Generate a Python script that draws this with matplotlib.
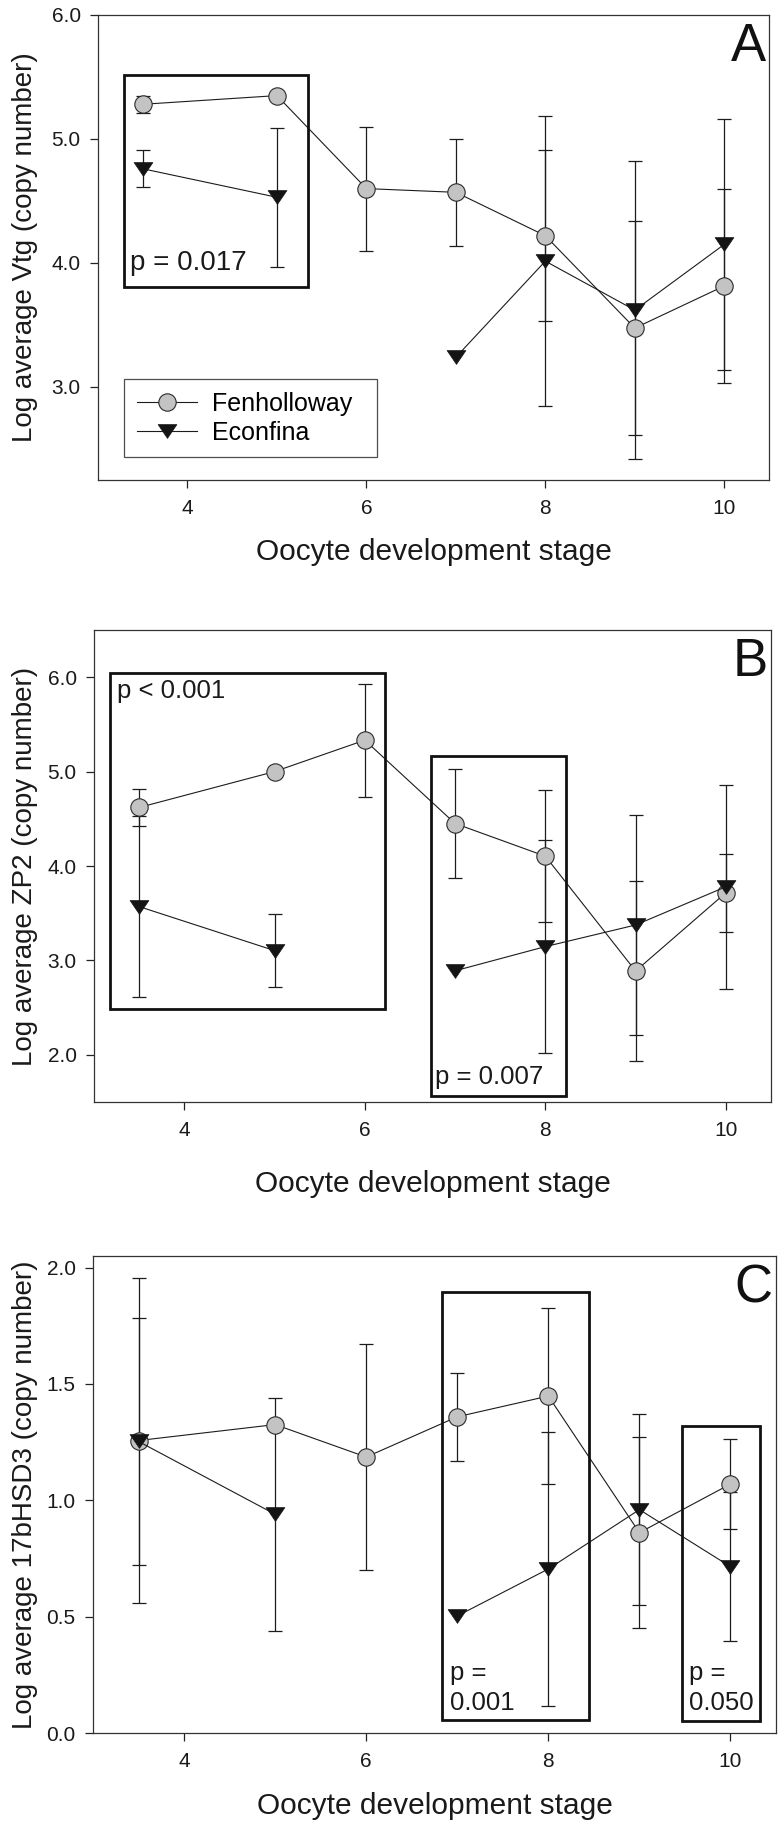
import numpy as np
import matplotlib
matplotlib.use("Agg")
import matplotlib.pyplot as plt
from matplotlib.patches import Rectangle
from matplotlib.path import Path

# ---------------- data ----------------
stages = [3.5, 5, 6, 7, 8, 9, 10]
xticks = [4, 6, 8, 10]
series_names = ["Fenholloway", "Econfina"]

# Panel A: Vtg
vtg_fen = [5.28, 5.35, 4.60, 4.57, 4.22, 3.475, 3.815]
vtg_fen_err = [0.07, np.nan, 0.50, 0.43, 0.69, 0.86, 0.78]
vtg_eco = [4.76, 4.53, np.nan, 3.24, 4.015, 3.62, 4.15]
vtg_eco_err = [0.15, 0.56, np.nan, np.nan, 1.17, 1.20, 1.01]

# Panel B: ZP2
zp2_fen = [4.62, 5.00, 5.333, 4.45, 4.104, 2.8875, 3.717]
zp2_fen_err = [0.20, np.nan, 0.60, 0.58, 0.70, 0.95, 0.415]
zp2_eco = [3.57, 3.104, np.nan, 2.89, 3.146, 3.375, 3.78]
zp2_eco_err = [0.96, 0.39, np.nan, np.nan, 1.13, 1.16, 1.08]

# Panel C: 17bHSD3
hsd_fen = [1.257, 1.3255, 1.186, 1.359, 1.448, 0.861, 1.070]
hsd_fen_err = [0.70, np.nan, 0.487, 0.19, 0.38, 0.41, 0.195]
hsd_eco = [1.253, 0.940, np.nan, 0.503, 0.705, 0.960, 0.715]
hsd_eco_err = [0.53, 0.50, np.nan, np.nan, 0.59, 0.41, 0.32]

ylabels = ["Log average Vtg (copy number)",
           "Log average ZP2 (copy number)",
           "Log average 17bHSD3 (copy number)"]
xlabel = "Oocyte development stage"
panel_letters = ["A", "B", "C"]
yticks_list = [[3, 4, 5, 6], [2, 3, 4, 5, 6], [0, 0.5, 1.0, 1.5, 2.0]]
ylims = [(2.25, 6.0), (1.5, 6.5), (0.0, 2.05)]

# significance boxes: (x0, x1, y0, y1)
boxes_A = [(3.29, 5.35, 3.81, 5.52)]
boxes_B = [(3.18, 6.22, 2.48, 6.04), (6.73, 8.23, 1.56, 5.17)]
boxes_C = [(6.83, 8.45, 0.056, 1.897), (9.47, 10.32, 0.053, 1.32)]

# ---------------- style ----------------
FONT = ["Liberation Sans", "DejaVu Sans"]
plt.rcParams["font.family"] = FONT

W, H = 783, 1835
fig = plt.figure(figsize=(W / 100, H / 100), dpi=100)

# axes rectangles in pixels: left, right, top, bottom
rects = [(98, 769, 15, 480), (94, 771, 630, 1102), (93, 776, 1256, 1733)]
xlabel_off = [72, 82, 73]

tri = Path([(-1, 0.735), (1, 0.735), (0, -0.735), (-1, 0.735)],
           [Path.MOVETO, Path.LINETO, Path.LINETO, Path.CLOSEPOLY])

data = [
    (vtg_fen, vtg_fen_err, vtg_eco, vtg_eco_err, boxes_A),
    (zp2_fen, zp2_fen_err, zp2_eco, zp2_eco_err, boxes_B),
    (hsd_fen, hsd_fen_err, hsd_eco, hsd_eco_err, boxes_C),
]

LC = "#1c1c1c"
TC = "#1a1a1a"
axes = []
for i, (l, r, t, b) in enumerate(rects):
    ax = fig.add_axes([l / W, 1 - b / H, (r - l) / W, (b - t) / H])
    axes.append(ax)
    fen, fen_err, eco, eco_err, boxes = data[i]
    x = np.array(stages, float)
    fen = np.array(fen, float); fen_err = np.array(fen_err, float)
    eco = np.array(eco, float); eco_err = np.array(eco_err, float)

    m = ~np.isnan(fen_err)
    ax.errorbar(x[m], fen[m], yerr=fen_err[m], fmt="none", ecolor=LC,
                elinewidth=0.9, capsize=5, capthick=0.9, zorder=2)
    m2 = ~np.isnan(eco_err)
    ax.errorbar(x[m2], eco[m2], yerr=eco_err[m2], fmt="none", ecolor=LC,
                elinewidth=0.9, capsize=5, capthick=0.9, zorder=2)

    ax.plot(x, fen, "-", color=LC, lw=0.8, marker="o", ms=12.5,
            mfc="#c3c3c3", mec="#2a2a2a", mew=0.8, zorder=3,
            label=series_names[0])
    ax.plot(x, eco, "-", color=LC, lw=0.8, marker=tri, ms=13.5,
            mfc="#141414", mec="#141414", mew=0.5, zorder=4,
            label=series_names[1])

    for (x0, x1, y0, y1) in boxes:
        ax.add_patch(Rectangle((x0, y0), x1 - x0, y1 - y0, fill=False,
                               lw=2.0, ec="#111111", zorder=5, clip_on=False))

    ax.set_xlim(3, 10.5)
    ax.set_ylim(*ylims[i])
    ax.set_xticks(xticks)
    ax.set_xticklabels([str(v) for v in xticks])
    ax.set_yticks(yticks_list[i])
    ax.set_yticklabels(["%.1f" % v for v in yticks_list[i]])
    ax.tick_params(axis="both", direction="out", length=5.5, width=0.9,
                   colors="#222222", labelsize=15, labelcolor=TC)
    ax.tick_params(axis="x", pad=8)
    ax.tick_params(axis="y", pad=7)
    for s in ax.spines.values():
        s.set_linewidth(0.9)
        s.set_color("#333333")

    ax.set_xlabel(xlabel, fontsize=21.5, color=TC, va="center")
    ax.xaxis.set_label_coords(0.5, -xlabel_off[i] / (b - t))
    ax.set_ylabel(ylabels[i], fontsize=20, color=TC, va="center")
    ax.yaxis.set_label_coords((25 - l) / (r - l), 0.5)

    ax.text(0.995, 0.985, panel_letters[i], transform=ax.transAxes,
            ha="right", va="top", fontsize=38, color="#111111")

# p-value texts
axA, axB, axC = axes
axA.text(3.36, 4.0, "p = 0.017", fontsize=20, ha="left", va="center",
         color=TC, zorder=6)
axB.text(3.25, 5.85, "p < 0.001", fontsize=18.5, ha="left", va="center",
         color=TC, zorder=6)
axB.text(6.78, 1.76, "p = 0.007", fontsize=18.5, ha="left", va="center",
         color=TC, zorder=6)
axC.text(6.92, 0.26, "p =", fontsize=18.5, ha="left", va="center", color=TC)
axC.text(6.92, 0.13, "0.001", fontsize=18.5, ha="left", va="center", color=TC)
axC.text(9.54, 0.26, "p =", fontsize=18.5, ha="left", va="center", color=TC)
axC.text(9.54, 0.13, "0.050", fontsize=18.5, ha="left", va="center", color=TC)

lx0, lx1, ly0, ly1 = 124, 377, 369, 457
l, r, t, b = rects[0]
leg = axA.legend(loc="lower left",
                 bbox_to_anchor=((lx0 - l) / (r - l), (b - ly1) / (b - t),
                                 (lx1 - lx0) / (r - l), (ly1 - ly0) / (b - t)),
                 mode="expand", fontsize=18, frameon=True, fancybox=False,
                 borderpad=0.5, handlelength=2.4, handletextpad=0.6,
                 labelspacing=0.2, borderaxespad=0)
leg.get_frame().set_edgecolor("#222222")
leg.get_frame().set_linewidth(0.9)

fig.savefig("out.png", dpi=100)
